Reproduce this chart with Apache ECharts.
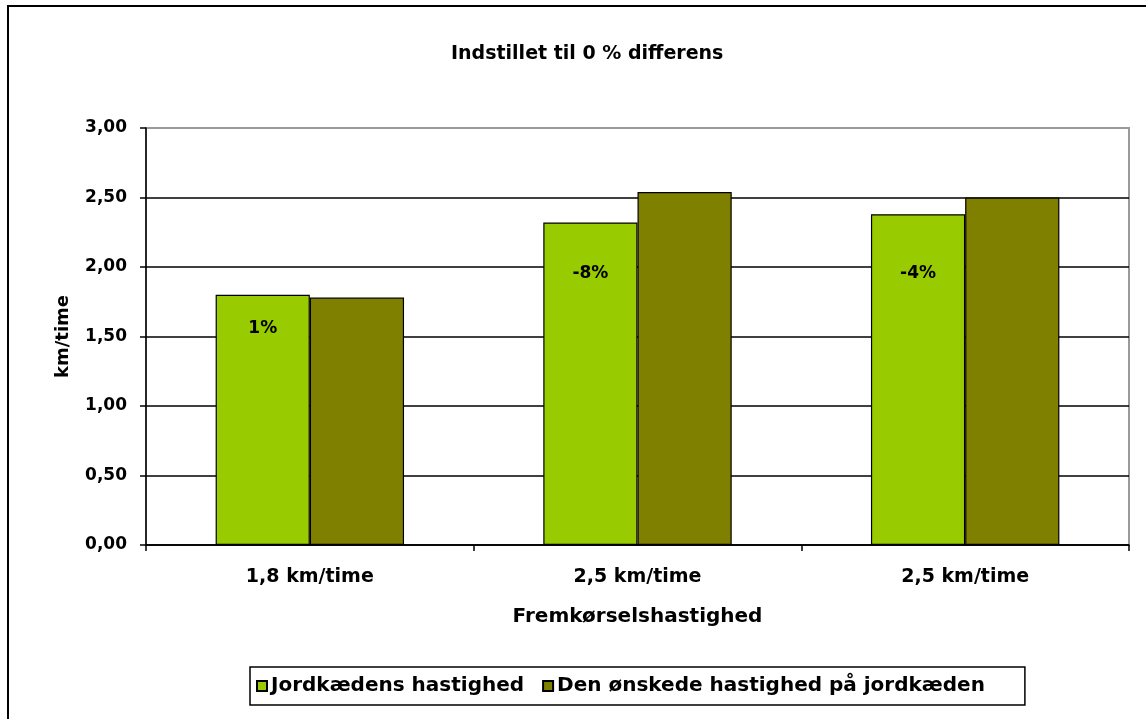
<!DOCTYPE html>
<html>
<head>
<meta charset="utf-8">
<title>Indstillet til 0 % differens</title>
<script src="https://cdn.jsdelivr.net/npm/echarts@6/dist/echarts.min.js"></script>
<style>
  html, body { margin: 0; padding: 0; background: #fff; }
  #chart { width: 1146px; height: 719px; }
</style>
</head>
<body>
<div id="chart"></div>
<script>
// Forward speed settings (categories)
const categories = ['1,8 km/time', '2,5 km/time', '2,5 km/time'];
// Measured ground-chain speed, km/time
const jordkaedensHastighed = [1.80, 2.32, 2.38];
// Target ground-chain speed, km/time
const oenskedeHastighed = [1.78, 2.54, 2.50];
// Difference labels shown inside the measured bars
const differenceLabels = ['1%', '-8%', '-4%'];
// Y axis range
const yMin = 0, yMax = 3, yStep = 0.5;

const seriesNames = ['Jordkædens hastighed', 'Den ønskede hastighed på jordkæden'];
const colors = ['#99CC00', '#808000'];
const FONT = 'DejaVu Sans';
// vertical offset of each difference label below its bar top
const labelDrop = [34, 51, 59];

const chart = echarts.init(document.getElementById('chart'), null, { renderer: 'canvas' });

const gridLineColors = [];
for (let v = yMin; v <= yMax + 1e-9; v += yStep) {
  gridLineColors.push(Math.abs(v - yMax) < 1e-9 ? '#9a9a9a' : '#000000');
}

chart.setOption({
  animation: false,
  backgroundColor: '#ffffff',
  title: {
    text: 'Indstillet til 0 % differens',
    left: 446,
    top: 40,
    textStyle: { fontFamily: FONT, fontWeight: 'bold', fontSize: 19, color: '#000' }
  },
  graphic: [
    { type: 'line', shape: { x1: 8, y1: 6, x2: 8, y2: 719 }, style: { stroke: '#000', lineWidth: 2 } },
    { type: 'line', shape: { x1: 7, y1: 6, x2: 1146, y2: 6 }, style: { stroke: '#000', lineWidth: 2 } }
  ],
  grid: {
    left: 146, right: 17, top: 128, bottom: 174,
    show: true, borderColor: '#9a9a9a', borderWidth: 2, backgroundColor: 'transparent'
  },
  legend: {
    left: 250, top: 667,
    orient: 'horizontal',
    data: seriesNames,
    icon: 'rect',
    itemWidth: 10, itemHeight: 10, itemGap: 18,
    padding: [9, 40, 9, 6],
    borderColor: '#000', borderWidth: 1.5,
    textStyle: { fontFamily: FONT, fontWeight: 'bold', fontSize: 20, color: '#000', padding: [0, 0, 0, -1] }
  },
  xAxis: {
    type: 'category',
    data: categories,
    name: 'Fremkørselshastighed',
    nameLocation: 'middle',
    nameGap: 62,
    nameTextStyle: { fontFamily: FONT, fontWeight: 'bold', fontSize: 20, color: '#000' },
    axisLine: { lineStyle: { color: '#000', width: 1.5 } },
    axisTick: { show: true, length: 6, lineStyle: { color: '#000', width: 1.5 } },
    axisLabel: { margin: 23, fontFamily: FONT, fontWeight: 'bold', fontSize: 19, color: '#000' },
    splitLine: { show: false }
  },
  yAxis: {
    type: 'value',
    min: yMin, max: yMax, interval: yStep,
    name: 'km/time',
    nameLocation: 'middle',
    nameRotate: 90,
    nameGap: 74,
    nameTextStyle: { fontFamily: FONT, fontWeight: 'bold', fontSize: 18, color: '#000' },
    axisLine: { show: true, lineStyle: { color: '#000', width: 1.5 } },
    axisTick: { show: true, length: 6, lineStyle: { color: '#000', width: 1.5 } },
    axisLabel: {
      margin: 19, fontFamily: FONT, fontWeight: 'bold', fontSize: 17, color: '#000',
      formatter: v => v.toFixed(2).replace('.', ',')
    },
    splitLine: { show: true, lineStyle: { color: gridLineColors, width: 1.5 } }
  },
  series: [
    {
      name: seriesNames[0],
      type: 'bar',
      barGap: '0%',
      barCategoryGap: '42.5%',
      itemStyle: { color: colors[0], borderColor: '#000', borderWidth: 1.2 },
      data: jordkaedensHastighed.map((v, i) => ({
        value: v,
        label: {
          show: true,
          formatter: differenceLabels[i],
          position: ['50%', labelDrop[i]],
          align: 'center',
          verticalAlign: 'middle',
          fontFamily: FONT, fontWeight: 'bold', fontSize: 17, color: '#000'
        }
      }))
    },
    {
      name: seriesNames[1],
      type: 'bar',
      itemStyle: { color: colors[1], borderColor: '#000', borderWidth: 1.2 },
      data: oenskedeHastighed
    }
  ]
});
</script>
</body>
</html>
